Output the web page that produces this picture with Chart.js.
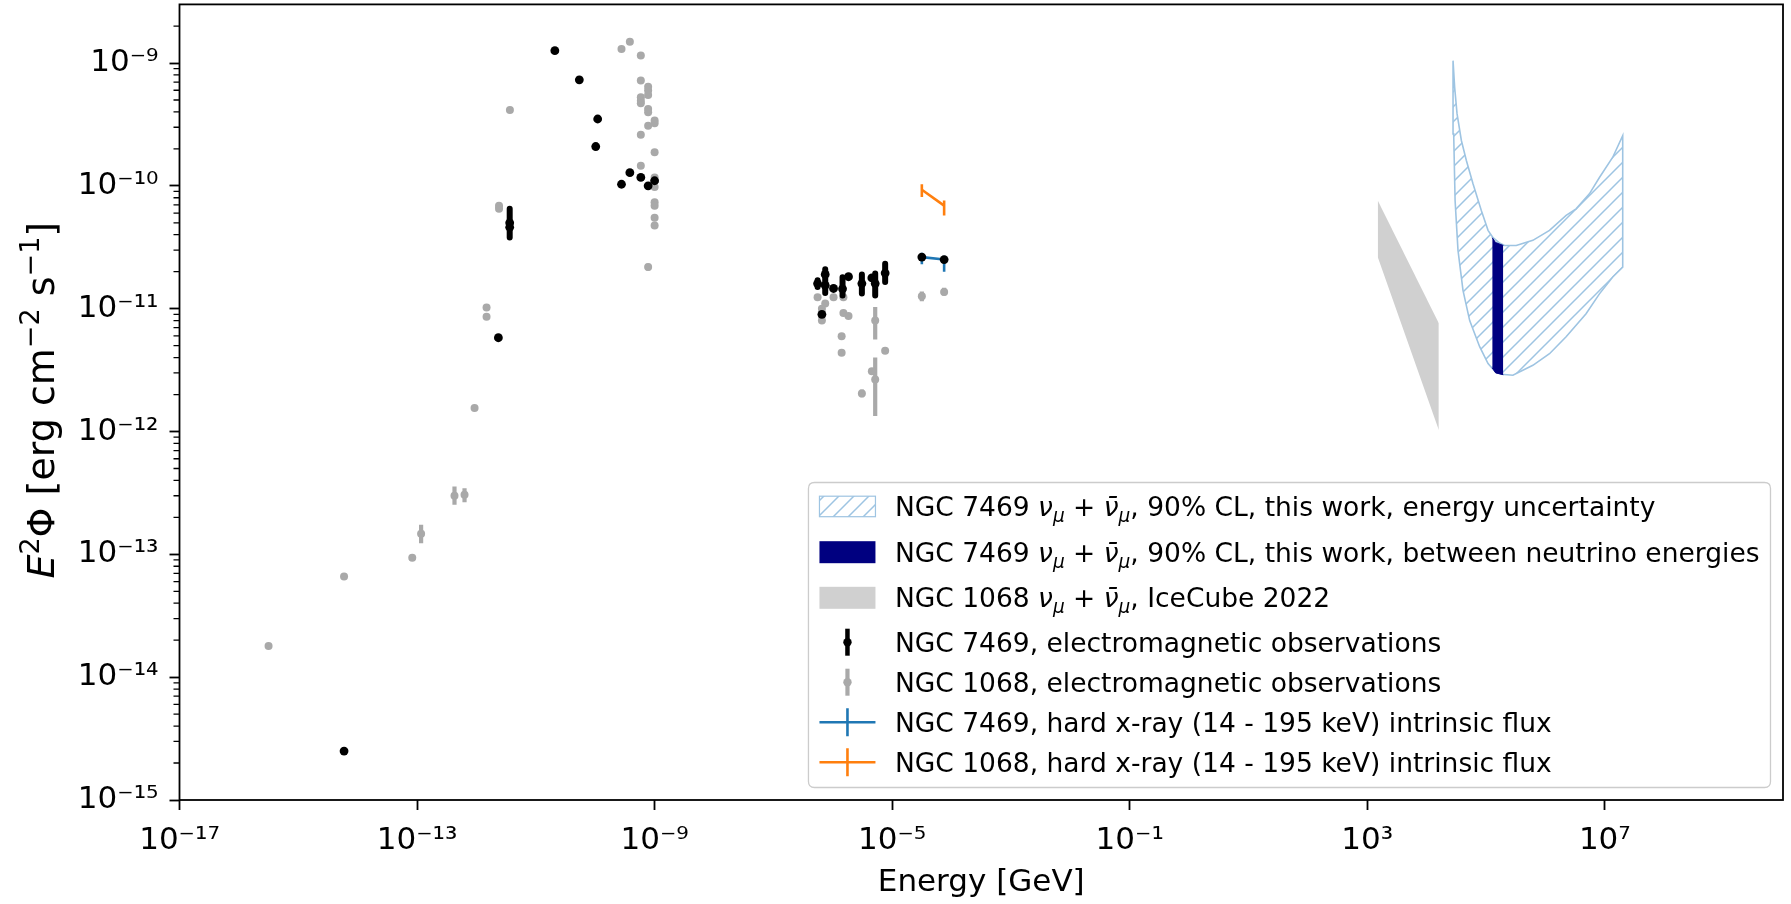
<!DOCTYPE html>
<html>
<head>
<meta charset="utf-8">
<script src="https://cdn.jsdelivr.net/npm/chart.js@4.4.1/dist/chart.umd.min.js"></script>
<style>
html, body { margin:0; padding:0; background:#ffffff; overflow:hidden; }
#wrap { position:relative; width:1791px; height:904px; }
</style>
</head>
<body>
<div id="wrap"><canvas id="chart" width="1791" height="904"></canvas></div>
<script>
// ---------------- axes ----------------
const xMin = 1e-17, xMax = 1e10;
const yMin = 1e-15, yMax = 3e-9;
const xTickValues = [1e-17, 1e-13, 1e-9, 1e-5, 1e-1, 1e3, 1e7];
const xTickLabels = ['10⁻¹⁷', '10⁻¹³', '10⁻⁹', '10⁻⁵', '10⁻¹', '10³', '10⁷'];
const yTickValues = [1e-15, 1e-14, 1e-13, 1e-12, 1e-11, 1e-10, 1e-9];
const yTickLabels = ['10⁻¹⁵', '10⁻¹⁴', '10⁻¹³', '10⁻¹²', '10⁻¹¹', '10⁻¹⁰', '10⁻⁹'];
const xTitle = 'Energy [GeV]';

// ---------------- legend labels ----------------
const legendLabels = [
  'NGC 7469 $ν_μ + ν\u0304_μ$, 90% CL, this work, energy uncertainty',
  'NGC 7469 $ν_μ + ν\u0304_μ$, 90% CL, this work, between neutrino energies',
  'NGC 1068 $ν_μ + ν\u0304_μ$, IceCube 2022',
  'NGC 7469, electromagnetic observations',
  'NGC 1068, electromagnetic observations',
  'NGC 7469, hard x-ray (14 - 195 keV) intrinsic flux',
  'NGC 1068, hard x-ray (14 - 195 keV) intrinsic flux'
];

// ---------------- NGC 7469 electromagnetic observations ----------------
const n7469E = [5.9e-15, 2.34e-12, 3.63e-12, 3.63e-12, 2.09e-11, 5.4e-11, 1.1e-10, 1.02e-10, 2.77e-10, 3.83e-10, 5.86e-10, 7.78e-10, 1.0e-9,
                5.55e-7, 6.56e-7, 7.46e-7, 7.46e-7, 1.03e-6, 1.46e-6, 1.84e-6, 3.09e-6, 4.55e-6, 5.18e-6, 7.62e-6, 3.16e-5, 7.5e-5];
const n7469F = [2.5e-15, 5.8e-12, 4.6e-11, 5.0e-11, 1.26e-9, 7.3e-10, 3.5e-10, 2.09e-10, 1.03e-10, 1.28e-10, 1.17e-10, 1.0e-10, 1.1e-10,
                1.6e-11, 9.0e-12, 1.55e-11, 1.9e-11, 1.46e-11, 1.45e-11, 1.82e-11, 1.6e-11, 1.78e-11, 1.6e-11, 1.95e-11, 2.63e-11, 2.51e-11];
const n7469ErrE  = [3.63e-12, 3.63e-12, 5.55e-7, 7.46e-7, 7.46e-7, 1.46e-6, 3.09e-6, 5.18e-6, 7.62e-6];
const n7469ErrLo = [3.8e-11, 4.3e-11, 1.5e-11, 1.34e-11, 1.75e-11, 1.28e-11, 1.33e-11, 1.28e-11, 1.65e-11];
const n7469ErrHi = [5.6e-11, 6.5e-11, 1.7e-11, 1.75e-11, 2.09e-11, 1.8e-11, 1.9e-11, 1.93e-11, 2.32e-11];

// ---------------- NGC 1068 electromagnetic observations ----------------
const n1068E = [3.16e-16, 5.9e-15, 8.3e-14, 1.17e-13, 4.27e-13, 6.3e-13, 9.3e-13, 1.48e-12, 1.48e-12, 2.4e-12, 2.4e-12, 3.66e-12,
                2.77e-10, 3.83e-10,
                5.86e-10, 5.86e-10, 5.86e-10, 5.86e-10, 5.86e-10, 5.86e-10, 5.86e-10,
                7.78e-10, 7.78e-10, 7.78e-10, 7.78e-10, 7.78e-10, 7.78e-10, 7.78e-10,
                1.0e-9, 1.0e-9, 1.0e-9, 1.0e-9, 1.0e-9, 1.0e-9, 1.0e-9, 1.0e-9, 1.0e-9, 1.0e-9,
                5.55e-7, 7.46e-7, 6.56e-7, 6.56e-7, 6.56e-7, 1.03e-6, 1.51e-6, 1.51e-6, 1.84e-6, 1.41e-6, 1.41e-6,
                5.18e-6, 4.55e-6, 5.18e-6, 7.62e-6, 3.09e-6, 3.16e-5, 7.5e-5];
const n1068F = [1.79e-14, 6.6e-14, 9.4e-14, 1.47e-13, 3.0e-13, 3.05e-13, 1.55e-12, 1.02e-11, 8.6e-12, 6.9e-11, 6.5e-11, 4.15e-10,
                1.30e-9, 1.49e-9,
                1.15e-9, 7.2e-10, 5.26e-10, 4.94e-10, 4.7e-10, 2.6e-10, 1.46e-10,
                6.4e-10, 5.96e-10, 5.5e-10, 4.22e-10, 3.97e-10, 3.09e-10, 2.18e-11,
                3.4e-10, 3.23e-10, 1.88e-10, 1.17e-10, 1.1e-10, 9.8e-11, 7.35e-11, 6.9e-11, 5.5e-11, 4.75e-11,
                1.24e-11, 1.1e-11, 1.0e-11, 8.8e-12, 8.0e-12, 1.24e-11, 1.24e-11, 9.2e-12, 8.7e-12, 5.95e-12, 4.37e-12,
                8.0e-12, 3.1e-12, 2.65e-12, 4.55e-12, 2.04e-12, 1.26e-11, 1.37e-11];
const n1068ErrE  = [1.17e-13, 4.27e-13, 6.3e-13, 7.78e-10, 1.0e-9, 5.18e-6, 5.18e-6, 3.09e-6, 3.16e-5, 7.5e-5];
const n1068ErrLo = [1.23e-13, 2.53e-13, 2.65e-13, 2.05e-11, 9.5e-11, 5.6e-12, 1.34e-12, 1.9e-12, 1.15e-11, 1.28e-11];
const n1068ErrHi = [1.74e-13, 3.57e-13, 3.45e-13, 2.32e-11, 1.22e-10, 1.03e-11, 4.0e-12, 2.2e-12, 1.38e-11, 1.48e-11];

// ---------------- hard x-ray intrinsic flux ----------------
const xrayE = [3.16e-5, 7.5e-5];
const n7469XrayF  = [2.63e-11, 2.51e-11];
const n7469XrayLo = [2.3e-11, 2.0e-11];
const n7469XrayHi = [2.85e-11, 2.7e-11];
const n1068XrayF  = [9.3e-11, 6.9e-11];
const n1068XrayLo = [8.1e-11, 5.74e-11];
const n1068XrayHi = [1.03e-10, 7.6e-11];

// ---------------- NGC 1068 IceCube 2022 band ----------------
const iceE = [1.5e3, 1.6e4];
const iceUpper = [7.6e-11, 7.6e-12];
const iceLower = [2.63e-11, 1.03e-12];

// ---------------- NGC 7469 limit, energy uncertainty (hatched) ----------------
const hatchUpperE = [2.78e4, 2.96e4, 3.25e4, 3.84e4, 4.66e4, 6.03e4, 8.32e4, 1.08e5, 1.31e5, 1.69e5, 2.05e5, 3.22e5, 6.14e5, 1.17e6, 2.23e6, 3.28e6, 5.5e6, 8.11e6, 1.36e7, 2.0e7];
const hatchUpperF = [1.045e-9, 6.34e-10, 3.85e-10, 2.34e-10, 1.61e-10, 1.04e-10, 6.3e-11, 4.34e-11, 3.78e-11, 3.42e-11, 3.27e-11, 3.27e-11, 3.6e-11, 4.34e-11, 5.74e-11, 6.5e-11, 8.6e-11, 1.17e-10, 1.71e-10, 2.56e-10];
const hatchLowerE = [2.78e4, 2.85e4, 3.01e4, 3.37e4, 4.09e4, 5.3e4, 7.8e4, 1.08e5, 1.39e5, 1.8e5, 2.83e5, 6.14e5, 1.17e6, 2.23e6, 4.83e6, 8.11e6, 1.36e7, 2.0e7];
const hatchLowerF = [1.045e-9, 2.65e-10, 7.6e-11, 2.98e-11, 1.41e-11, 8.0e-12, 4.9e-12, 3.57e-12, 3.11e-12, 2.92e-12, 2.87e-12, 3.46e-12, 4.3e-12, 5.9e-12, 9.1e-12, 1.32e-11, 1.81e-11, 2.18e-11];

// ---------------- NGC 7469 limit, between neutrino energies (navy) ----------------
const navyE = [1.27e5, 1.45e5, 1.95e5];
const navyUpper = [3.78e-11, 3.45e-11, 3.27e-11];
const navyLower = [3.3e-12, 3.0e-12, 2.9e-12];

// ---------------- styling ----------------
const FONT = 'DejaVu Sans';
const hatchColor = 'rgb(158,196,226)';
const greyPt = '#a9a9a9';
const blueC = '#1f77b4', orangeC = '#ff7f0e';
Chart.defaults.font.family = FONT;
Chart.defaults.color = '#000';

const canvas = document.getElementById('chart');
const mainCtx = canvas.getContext('2d');
const tile = document.createElement('canvas');
tile.width = 15; tile.height = 15;
const tg = tile.getContext('2d');
tg.strokeStyle = hatchColor; tg.lineWidth = 1.5;
tg.beginPath();
tg.moveTo(-2, 17); tg.lineTo(17, -2);
tg.moveTo(-9.5, 9.5); tg.lineTo(9.5, -9.5);
tg.moveTo(5.5, 24.5); tg.lineTo(24.5, 5.5);
tg.stroke();
const hatchPattern = mainCtx.createPattern(tile, 'repeat');

const pts = (E, F) => E.map((e, i) => ({x: e, y: F[i]}));
function errs(E, lo, hi) {
  const out = [];
  for (let i = 0; i < E.length; i++) {
    out.push({x: E[i], y: lo[i]}, {x: E[i], y: hi[i]}, {x: E[i], y: null});
  }
  return out;
}
const yMinorTicks = [];
for (let k = -15; k <= -9; k++) for (let m = 2; m <= 9; m++) {
  const v = m * Math.pow(10, k);
  if (v < yMax) yMinorTicks.push(v);
}

const hatchOutline = pts(hatchUpperE, hatchUpperF).concat(pts(hatchLowerE, hatchLowerF).reverse());

const lineDs = (data, extra) => Object.assign({data, showLine: true, pointRadius: 0, pointHitRadius: 0, spanGaps: false, tension: 0}, extra);

const datasets = [
  {label: legendLabels[3], data: pts(n7469E, n7469F), showLine: false, pointRadius: 4.4, pointBorderWidth: 0, backgroundColor: '#000', order: 1},   // 0
  lineDs(errs(n7469ErrE, n7469ErrLo, n7469ErrHi), {label: 'NGC 7469 errors', borderColor: '#000', borderWidth: 6, borderCapStyle: 'round', order: 2}), // 1
  {label: legendLabels[4], data: pts(n1068E, n1068F), showLine: false, pointRadius: 4.0, pointBorderWidth: 0, backgroundColor: greyPt, order: 3}, // 2
  lineDs(errs(n1068ErrE, n1068ErrLo, n1068ErrHi), {label: 'NGC 1068 errors', borderColor: greyPt, borderWidth: 4.2, order: 4}), // 3
  lineDs(errs(xrayE, n7469XrayLo, n7469XrayHi), {label: 'NGC 7469 x-ray errors', borderColor: blueC, borderWidth: 2.6, order: 5}), // 4
  lineDs(pts(xrayE, n7469XrayF), {label: legendLabels[5], borderColor: blueC, borderWidth: 2.6, order: 6}), // 5
  lineDs(errs(xrayE, n1068XrayLo, n1068XrayHi), {label: 'NGC 1068 x-ray errors', borderColor: orangeC, borderWidth: 2.6, order: 7}), // 6
  lineDs(pts(xrayE, n1068XrayF), {label: legendLabels[6], borderColor: orangeC, borderWidth: 2.6, order: 8}), // 7
  lineDs(pts(navyE, navyLower), {label: 'navy lower', borderColor: 'navy', borderWidth: 1, order: 9}), // 8
  lineDs(pts(navyE, navyUpper), {label: legendLabels[1], borderColor: 'navy', borderWidth: 1, backgroundColor: 'navy', fill: 8, order: 10}), // 9
  lineDs(hatchOutline, {label: 'hatch outline', borderColor: hatchColor, borderWidth: 1.6, order: 11}), // 10
  lineDs(pts(hatchLowerE, hatchLowerF), {label: 'hatch lower', borderWidth: 0, order: 12}), // 11
  lineDs(pts(hatchUpperE, hatchUpperF), {label: legendLabels[0], borderWidth: 0, backgroundColor: hatchPattern, fill: 11, order: 13}), // 12
  lineDs(pts(iceE, iceLower), {label: 'IceCube lower', borderWidth: 0, order: 14}), // 13
  lineDs(pts(iceE, iceUpper), {label: legendLabels[2], borderWidth: 0, backgroundColor: '#d0d0d0', fill: 13, order: 15}) // 14
];

// ---------------- rich text helpers ----------------
function parseRich(str, size) {
  const fam = '"' + FONT + '"';
  const segs = [];
  str.split('$').forEach((p, i) => {
    if (!p) return;
    if (i % 2 === 0) { segs.push({t: p, font: size + 'px ' + fam, dy: 0}); return; }
    const ch = Array.from(p);
    for (let j = 0; j < ch.length; j++) {
      const c = ch[j];
      if (c === ' ') continue;
      if (c === '+') { segs.push({t: ' + ', font: size + 'px ' + fam, dy: 0}); continue; }
      let sub = false, g = c;
      if (c === '_') { sub = true; j++; g = ch[j]; }
      while (j + 1 < ch.length && /[\u0300-\u036f]/.test(ch[j + 1])) { j++; g += ch[j]; }
      if (sub) segs.push({t: g, font: 'italic ' + (size * 0.7) + 'px ' + fam, dy: size * 0.22});
      else segs.push({t: g, font: 'italic ' + size + 'px ' + fam, dy: 0});
    }
  });
  return segs;
}
function richWidth(ctx, segs) {
  let w = 0;
  for (const s of segs) { ctx.font = s.font; w += ctx.measureText(s.t).width; }
  return w;
}
function drawRich(ctx, segs, x, y) {
  ctx.textAlign = 'left'; ctx.textBaseline = 'alphabetic';
  for (const s of segs) {
    ctx.font = s.font;
    ctx.fillText(s.t, x, y + s.dy);
    x += ctx.measureText(s.t).width;
  }
}

const yTitleSegs = [
  {t: 'E', font: 'italic 38px "DejaVu Sans"', dy: 0},
  {t: '2', font: '27px "DejaVu Sans"', dy: -15},
  {t: 'Φ [erg cm', font: '38px "DejaVu Sans"', dy: 0},
  {t: '−2', font: '27px "DejaVu Sans"', dy: -15},
  {t: ' s', font: '38px "DejaVu Sans"', dy: 0},
  {t: '−1', font: '27px "DejaVu Sans"', dy: -15},
  {t: ']', font: '38px "DejaVu Sans"', dy: 0}
];

// ---------------- plugins ----------------
const framePlugin = {
  id: 'frame',
  afterDraw(chart) {
    const ctx = chart.ctx, a = chart.chartArea, ys = chart.scales.y;
    ctx.save();
    ctx.strokeStyle = '#000'; ctx.lineWidth = 1.3;
    ctx.beginPath();
    for (const v of yMinorTicks) {
      const py = ys.getPixelForValue(v);
      ctx.moveTo(a.left - 6, py); ctx.lineTo(a.left, py);
    }
    ctx.stroke();
    ctx.lineWidth = 1.8;
    ctx.strokeRect(a.left, a.top, a.right - a.left, a.bottom - a.top);
    ctx.fillStyle = '#000';
    ctx.translate(54, (a.top + a.bottom) / 2 - 2);
    ctx.rotate(-Math.PI / 2);
    const w = richWidth(ctx, yTitleSegs);
    drawRich(ctx, yTitleSegs, -w / 2, 0);
    ctx.restore();
  }
};

const legendPlugin = {
  id: 'mplLegend',
  afterDraw(chart) {
    const ctx = chart.ctx, a = chart.chartArea;
    const size = 26.5;
    const segsList = legendLabels.map(l => parseRich(l, size));
    ctx.save();
    const textW = Math.max(...segsList.map(s => richWidth(ctx, s)));
    const padL = 11, handleW = 56, gap = 19.5, padR = 11, H = 305;
    const W = padL + handleW + gap + textW + padR;
    const R = a.right - 12.5, B = a.bottom - 12.5, L = R - W, T = B - H;
    const r = 6;
    ctx.beginPath();
    ctx.moveTo(L + r, T); ctx.lineTo(R - r, T); ctx.quadraticCurveTo(R, T, R, T + r);
    ctx.lineTo(R, B - r); ctx.quadraticCurveTo(R, B, R - r, B);
    ctx.lineTo(L + r, B); ctx.quadraticCurveTo(L, B, L, B - r);
    ctx.lineTo(L, T + r); ctx.quadraticCurveTo(L, T, L + r, T);
    ctx.closePath();
    ctx.fillStyle = 'rgba(255,255,255,0.8)'; ctx.fill();
    ctx.strokeStyle = '#cccccc'; ctx.lineWidth = 1.3; ctx.stroke();

    const rows = [23.7, 69.7, 115.3, 159.7, 199.7, 239.7, 279.7];
    const hx = L + padL, hc = hx + handleW / 2;
    let c = T + rows[0];
    ctx.fillStyle = hatchPattern; ctx.fillRect(hx, c - 10, handleW, 20.5);
    ctx.strokeStyle = hatchColor; ctx.lineWidth = 1.2; ctx.strokeRect(hx, c - 10, handleW, 20.5);
    c = T + rows[1];
    ctx.fillStyle = 'navy'; ctx.fillRect(hx, c - 11, handleW, 22);
    c = T + rows[2];
    ctx.fillStyle = '#d0d0d0'; ctx.fillRect(hx, c - 11, handleW, 22);
    const ebar = (cy, col, lw) => {
      ctx.strokeStyle = col; ctx.lineWidth = lw;
      ctx.beginPath(); ctx.moveTo(hc, cy - 13.5); ctx.lineTo(hc, cy + 13.5); ctx.stroke();
      ctx.fillStyle = col; ctx.beginPath(); ctx.arc(hc, cy, 4.2, 0, Math.PI * 2); ctx.fill();
    };
    ebar(T + rows[3], '#000', 4.5);
    ebar(T + rows[4], greyPt, 4.2);
    const cross = (cy, col) => {
      ctx.strokeStyle = col; ctx.lineWidth = 2.6;
      ctx.beginPath();
      ctx.moveTo(hx, cy); ctx.lineTo(hx + handleW, cy);
      ctx.moveTo(hc, cy - 14); ctx.lineTo(hc, cy + 14);
      ctx.stroke();
    };
    cross(T + rows[5], blueC);
    cross(T + rows[6], orangeC);
    ctx.fillStyle = '#000';
    segsList.forEach((segs, i) => drawRich(ctx, segs, hx + handleW + gap, T + rows[i] + 9.5));
    ctx.restore();
  }
};

new Chart(canvas, {
  type: 'scatter',
  data: {datasets},
  options: {
    responsive: false,
    devicePixelRatio: 1,
    animation: false,
    events: [],
    layout: {padding: {top: 3.5, right: 8, bottom: 0, left: 0}},
    plugins: {legend: {display: false}, tooltip: {enabled: false}},
    scales: {
      x: {
        type: 'logarithmic', min: xMin, max: xMax,
        afterBuildTicks: s => { s.min = xMin; s.max = xMax; s.ticks = xTickValues.map(v => ({value: v})); },
        afterFit: s => { s.height = 104; s.paddingLeft = 0; s.paddingRight = 0; s.paddingTop = 0; s.paddingBottom = 0; },
        ticks: {autoSkip: false, maxRotation: 0, minRotation: 0, padding: 12, color: '#000',
                font: {family: FONT, size: 31}, callback: (v, i) => xTickLabels[i]},
        grid: {display: true, drawOnChartArea: false, drawTicks: true, tickLength: 10, tickWidth: 1.8, tickColor: '#000'},
        border: {display: false},
        title: {display: true, text: xTitle, color: '#000', font: {family: FONT, size: 31}, padding: {top: 0, bottom: 2}}
      },
      y: {
        type: 'logarithmic', min: yMin, max: yMax,
        afterBuildTicks: s => { s.min = yMin; s.max = yMax; s.ticks = yTickValues.map(v => ({value: v})); },
        afterFit: s => { s.width = 179.5; s.paddingTop = 0; s.paddingBottom = 0; s.paddingLeft = 0; s.paddingRight = 0; },
        ticks: {autoSkip: false, padding: 11, color: '#000',
                font: {family: FONT, size: 31}, callback: (v, i) => yTickLabels[i]},
        grid: {display: true, drawOnChartArea: false, drawTicks: true, tickLength: 10, tickWidth: 1.8, tickColor: '#000'},
        border: {display: false}
      }
    }
  },
  plugins: [framePlugin, legendPlugin]
});
</script>
</body>
</html>
